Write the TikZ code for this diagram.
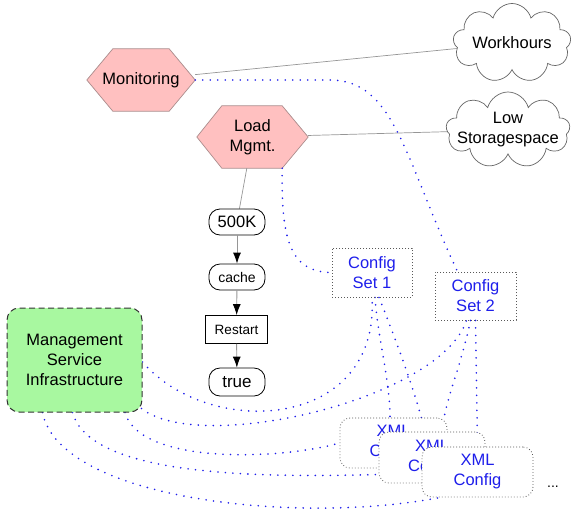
\documentclass[tikz,border=0pt]{standalone}
\usepackage{fontspec}
\setmainfont{Liberation Sans}
\usetikzlibrary{shapes.symbols,shapes.misc,arrows.meta,backgrounds}
\definecolor{hexfill}{RGB}{255,192,192}
\definecolor{hexdraw}{RGB}{170,140,140}
\definecolor{msifill}{RGB}{168,248,160}
\definecolor{linkblue}{RGB}{30,30,235}
\definecolor{edgegray}{RGB}{150,150,150}
\begin{document}
\begin{tikzpicture}[x=1pt,y=-1pt,
  txt/.style={font=\fontsize{16.5}{20}\selectfont, align=center, inner sep=0pt},
  hexbox/.style={txt, minimum width=#1, minimum height=62pt},
  hexshape/.style={draw=hexdraw, fill=hexfill, line width=0.7pt},
  cloudn/.style={cloud, cloud puffs=9, cloud ignores aspect, draw=black!60, fill=white, line width=0.7pt, inner sep=0pt},
  pill/.style={txt, draw=black, line width=0.8pt, rounded corners=11pt, minimum width=56pt, minimum height=26pt},
  boxn/.style={txt, draw=black, line width=0.8pt, minimum width=62pt, minimum height=28pt},
  msin/.style={txt, draw=black!80, fill=msifill, line width=1pt, dash pattern=on 6pt off 3.5pt, rounded corners=12pt, minimum width=135pt, minimum height=104pt},
  dotbox/.style={draw=black!65, line width=0.8pt, dash pattern=on 0.8pt off 2.2pt},
  cfg/.style={txt, dotbox, text=linkblue, minimum width=80pt, minimum height=49pt},
  xml/.style={txt, dotbox, text=linkblue, fill=white, rounded corners=10pt, minimum height=50pt},
  link/.style={linkblue, line width=1.8pt, line cap=round, dash pattern=on 0pt off 7.5pt},
  plain/.style={edgegray, line width=0.7pt},
  flow/.style={edgegray, line width=0.9pt, -{Latex[length=11pt,width=8pt,color=black]}}
]
\useasboundingbox (0,0) rectangle (572,517);

% hexagon nodes
\node[hexbox=108pt] (mon) at (141,80) {Monitoring};
\node[hexbox=111pt] (lm) at (252.5,137) {Load\\Mgmt.};

% clouds
\node[cloudn, minimum width=118pt, minimum height=79pt] (work) at (512,43) {};
\node[txt] (worktxt) at (work.center) {Workhours};
\node[cloudn, minimum width=124pt, minimum height=76pt] (low) at (508,130) {};
\node[txt] (lowtxt) at (low.center) {Low\\Storagespace};

% flow chain
\node[pill] (k500) at (237,222) {500K};
\node[pill, font=\fontsize{14}{16}\selectfont] (cache) at (237,277) {cache};
\node[boxn, font=\fontsize{13.5}{16}\selectfont] (restart) at (236.5,329.5) {Restart};
\node[pill, minimum height=28pt, font=\fontsize{17}{20}\selectfont] (true) at (237,382) {true};

% management
\node[msin] (msi) at (74.5,360) {Management\\Service\\Infrastructure};

% config sets
\node[cfg] (cs1) at (372,272.5) {Config\\Set 1};
\node[cfg, minimum width=81pt, minimum height=48pt] (cs2) at (475.5,296) {Config\\Set 2};

% xml configs
\node[xml, minimum width=107pt] (xml1) at (393.5,443) {XML\\Config};
\node[xml, minimum width=106pt, minimum height=51pt] (xml2) at (432,457.5) {XML\\Config};
\node[xml, minimum width=111pt] (xml3) at (477.5,472) {XML\\Config};
\node[font=\fontsize{14}{14}\selectfont, inner sep=0pt] (more) at (553,487) {...};

\begin{scope}[on background layer]
  \draw[hexshape] ([xshift=26pt]mon.north west) -- ([xshift=-26pt]mon.north east) -- (mon.east)
    -- ([xshift=-26pt]mon.south east) -- ([xshift=26pt]mon.south west) -- (mon.west) -- cycle;
  \draw[hexshape] ([xshift=25pt]lm.north west) -- ([xshift=-26pt]lm.north east) -- (lm.east)
    -- ([xshift=-26pt]lm.south east) -- ([xshift=25pt]lm.south west) -- (lm.west) -- cycle;

  % plain connectors
  \draw[plain] (mon) -- (work);
  \draw[plain] (lm) -- (low);
  \draw[plain] (lm) -- (k500);

  % dotted blue links
  \draw[link] (mon.east) -- (330,80) .. controls (395,80) and (405,160) .. ([xshift=-18pt]cs2.north);
  \draw[link] ([xshift=-26pt]lm.south east) .. controls (281,240) and (290,272) .. (cs1.west);
  \draw[link] ([yshift=-2pt]msi.east) .. controls (210,440) and (380,430) .. (cs1.south);
  \draw[link] ([xshift=-1pt,yshift=4pt]msi.south east) .. controls (200,455) and (440,400) .. ([xshift=-9pt]cs2.south);
  \draw[link] ([xshift=50.5pt]msi.south) .. controls (140,465) and (280,460) .. (xml1.west);
  \draw[link] ([xshift=-2pt]msi.south) .. controls (90,475) and (250,478) .. ([yshift=-17pt]xml2.west);
  \draw[link] ([xshift=-32pt]msi.south) .. controls (60,500) and (300,525) .. ([xshift=-37pt]xml3.south);
  \draw[link] ([xshift=3pt]cs1.south) .. controls (378,340) and (390,380) .. ([xshift=-3.5pt]xml1.north);
  \draw[link] ([xshift=7pt]cs1.south) .. controls (392,330) and (415,390) .. ([xshift=-7pt]xml2.north);
  \draw[link] ([xshift=-5pt]cs2.south) .. controls (460,370) and (445,400) .. ([xshift=10pt]xml2.north);
  \draw[link] (cs2.south) -- (xml3.north);
\end{scope}

% flow arrows
\draw[flow] (k500) -- (cache);
\draw[flow] (cache) -- (restart);
\draw[flow] (restart) -- (true);
\end{tikzpicture}
\end{document}
